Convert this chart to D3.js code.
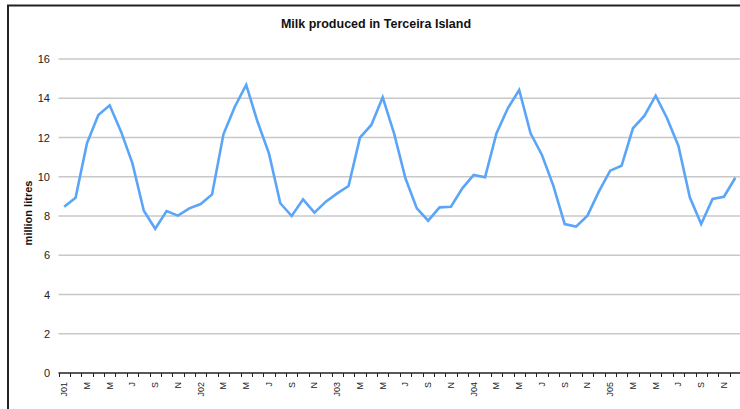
<!DOCTYPE html>
<html>
<head>
<meta charset="utf-8">
<script src="https://cdn.jsdelivr.net/npm/d3@7"></script>
<style>
  body { margin: 0; background: #fff; }
  svg { display: block; font-family: "Liberation Sans", Arial, sans-serif; }
</style>
</head>
<body>
<svg id="chart" width="740" height="409"></svg>
<script>
// monthly milk production, Jan 2001 - Dec 2005 (million litres)
const months = d3.range(60);
const tickLabels = ['J01', 'M', 'M', 'J', 'S', 'N',
                    'J02', 'M', 'M', 'J', 'S', 'N',
                    'J03', 'M', 'M', 'J', 'S', 'N',
                    'J04', 'M', 'M', 'J', 'S', 'N',
                    'J05', 'M', 'M', 'J', 'S', 'N'];
const milk = [
    8.47, 8.93, 11.70, 13.15, 13.64, 12.30, 10.68, 8.27, 7.35, 8.25, 8.02, 8.39,
    8.61, 9.10, 12.16, 13.57, 14.68, 12.80, 11.19, 8.65, 8.00, 8.85, 8.17, 8.73,
    9.15, 9.53, 11.99, 12.64, 14.05, 12.21, 9.92, 8.39, 7.76, 8.44, 8.47, 9.41,
    10.09, 9.97, 12.21, 13.49, 14.42, 12.21, 11.11, 9.55, 7.59, 7.46, 8.02, 9.24,
    10.31, 10.56, 12.47, 13.10, 14.13, 12.98, 11.57, 8.95, 7.59, 8.87, 8.98, 9.95
];
const yTicks = [0, 2, 4, 6, 8, 10, 12, 14, 16];

const svg = d3.select('#chart');
const plot = { left: 58.5, right: 741, top: 59, bottom: 373 };

// chart frame
svg.append('path')
    .attr('d', `M8,420 V5.5 H745`)
    .attr('fill', 'none')
    .attr('stroke', '#222')
    .attr('stroke-width', 2);

svg.append('text')
    .attr('x', 376)
    .attr('y', 28)
    .attr('text-anchor', 'middle')
    .attr('font-size', 12.5)
    .attr('font-weight', 'bold')
    .attr('fill', '#111')
    .text('Milk produced in Terceira Island');

const x = d3.scaleBand()
    .domain(months)
    .range([plot.left, plot.right]);

const y = d3.scaleLinear()
    .domain([0, 16])
    .range([plot.bottom, plot.top]);

// gridlines
svg.append('g')
    .selectAll('line')
    .data(yTicks.filter(d => d > 0))
    .join('line')
    .attr('x1', plot.left)
    .attr('x2', plot.right)
    .attr('y1', d => y(d))
    .attr('y2', d => y(d))
    .attr('stroke', '#c8c8c8')
    .attr('stroke-width', 1.5);

// y axis labels
svg.append('g')
    .selectAll('text')
    .data(yTicks)
    .join('text')
    .attr('x', 50)
    .attr('y', d => y(d) + 4)
    .attr('text-anchor', 'end')
    .attr('font-size', 11)
    .attr('fill', '#222')
    .text(d => d);

svg.append('text')
    .attr('transform', 'translate(32,213) rotate(-90)')
    .attr('text-anchor', 'middle')
    .attr('font-size', 11)
    .attr('font-weight', 'bold')
    .attr('fill', '#111')
    .text('million litres');

// x axis: ticks between months, labels every second month
const xAxis = svg.append('g')
    .attr('transform', `translate(0,${plot.bottom})`);

xAxis.append('line')
    .attr('x1', plot.left)
    .attr('x2', plot.right)
    .attr('stroke', '#222')
    .attr('stroke-width', 1.5);

xAxis.selectAll('line.tick')
    .data(months)
    .join('line')
    .attr('class', 'tick')
    .attr('x1', d => Math.round(x(d)) + 0.5)
    .attr('x2', d => Math.round(x(d)) + 0.5)
    .attr('y1', 0)
    .attr('y2', 4)
    .attr('stroke', '#222');

xAxis.selectAll('text')
    .data(tickLabels)
    .join('text')
    .attr('transform', (d, i) => `translate(${x(i * 2) + x.bandwidth() / 2 + 3},9) rotate(-90)`)
    .attr('text-anchor', 'end')
    .attr('font-size', 9)
    .attr('fill', '#222')
    .text(d => d);

// series line
const line = d3.line()
    .x((d, i) => x(months[i]) + x.bandwidth() / 2)
    .y(d => y(d));

svg.append('path')
    .datum(milk)
    .attr('d', line)
    .attr('fill', 'none')
    .attr('stroke', '#5aa5f8')
    .attr('stroke-width', 2.6)
    .attr('stroke-linejoin', 'miter');
</script>
</body>
</html>
